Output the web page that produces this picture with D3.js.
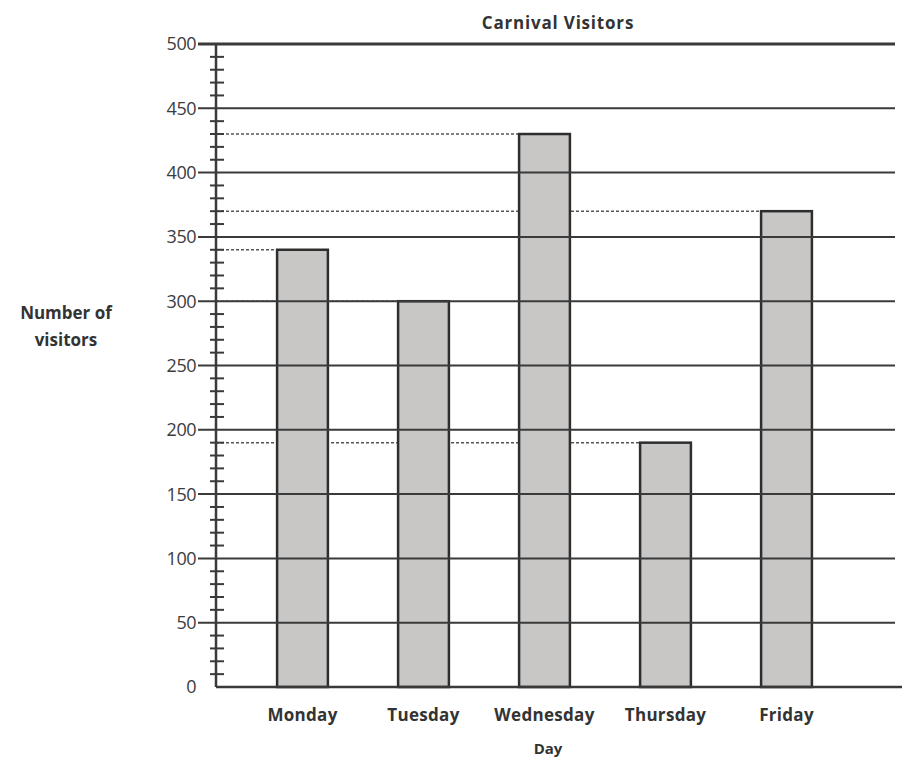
<!DOCTYPE html>
<html>
<head>
<meta charset="utf-8">
<script src="https://cdn.jsdelivr.net/npm/d3@7"></script>
<style>
  body { margin: 0; background: #fff; }
  text { font-family: "Open Sans", "Liberation Sans", sans-serif; }
</style>
</head>
<body>
<script>
// data
var days = ["Monday", "Tuesday", "Wednesday", "Thursday", "Friday"];
var visitors = [340, 300, 430, 190, 370];
var yTicks = [0, 50, 100, 150, 200, 250, 300, 350, 400, 450, 500];

var width = 902,
    height = 760;

var svg = d3.select("body").append("svg")
    .attr("width", width)
    .attr("height", height);

var axisX = 216;

var y = d3.scaleLinear()
    .domain([0, 500])
    .range([687, 44]);

var x = d3.scaleBand()
    .domain(days)
    .range([242, 847])
    .paddingInner(0.58)
    .paddingOuter(0.29);

var ink = "#3a3a3a";

// title
svg.append("text")
    .attr("x", 558)
    .attr("y", 29)
    .attr("text-anchor", "middle")
    .style("font-size", "17px")
    .style("font-weight", "bold")
    .style("letter-spacing", "0.8px")
    .style("fill", "#333")
    .text("Carnival Visitors");

// dashed reference lines from the axis to each bar (hidden behind bars)
svg.selectAll(".ref")
    .data(days)
  .enter().append("line")
    .attr("class", "ref")
    .attr("x1", axisX)
    .attr("x2", function(d) { return x(d); })
    .attr("y1", function(d, i) { return y(visitors[i]); })
    .attr("y2", function(d, i) { return y(visitors[i]); })
    .style("stroke", "#555")
    .style("stroke-width", 1.5)
    .style("stroke-dasharray", "3,2");

// bars
svg.selectAll(".bar")
    .data(days)
  .enter().append("rect")
    .attr("class", "bar")
    .attr("x", function(d) { return x(d); })
    .attr("width", x.bandwidth())
    .attr("y", function(d, i) { return y(visitors[i]); })
    .attr("height", function(d, i) { return y(0) - y(visitors[i]); })
    .style("fill", "#c9c7c6")
    .style("stroke", "#2e2e2e")
    .style("stroke-width", 2.5);

// horizontal gridlines, drawn over the bars
svg.selectAll(".grid")
    .data(yTicks.filter(function(v) { return v > 0; }))
  .enter().append("line")
    .attr("class", "grid")
    .attr("x1", 198)
    .attr("x2", 895)
    .attr("y1", function(d) { return y(d); })
    .attr("y2", function(d) { return y(d); })
    .style("stroke", ink)
    .style("stroke-width", function(d) { return d === 500 ? 3 : 2; });

// minor ticks every 10
svg.selectAll(".minor")
    .data(d3.range(10, 500, 10).filter(function(v) { return v % 50 !== 0; }))
  .enter().append("line")
    .attr("class", "minor")
    .attr("x1", 210)
    .attr("x2", 224)
    .attr("y1", function(d) { return y(d); })
    .attr("y2", function(d) { return y(d); })
    .style("stroke", ink)
    .style("stroke-width", 2);

// y axis line and baseline
svg.append("line")
    .attr("x1", axisX).attr("x2", axisX)
    .attr("y1", y(500)).attr("y2", y(0))
    .style("stroke", ink)
    .style("stroke-width", 2.5);

svg.append("line")
    .attr("x1", axisX).attr("x2", 902)
    .attr("y1", y(0)).attr("y2", y(0))
    .style("stroke", ink)
    .style("stroke-width", 2.5);

// y tick labels
svg.selectAll(".ylab")
    .data(yTicks)
  .enter().append("text")
    .attr("class", "ylab")
    .attr("x", 196)
    .attr("y", function(d) { return y(d); })
    .attr("dy", "0.36em")
    .attr("text-anchor", "end")
    .style("font-size", "18px")
    .style("letter-spacing", "-0.5px")
    .style("fill", "#3c3c3c")
    .text(function(d) { return d; });

// x labels
svg.selectAll(".xlab")
    .data(days)
  .enter().append("text")
    .attr("class", "xlab")
    .attr("x", function(d) { return x(d) + x.bandwidth() / 2; })
    .attr("y", 721)
    .attr("text-anchor", "middle")
    .style("font-size", "17px")
    .style("font-weight", "bold")
    .style("letter-spacing", "0.3px")
    .style("fill", "#333")
    .text(function(d) { return d; });

// axis titles
svg.append("text")
    .attr("x", 548)
    .attr("y", 754)
    .attr("text-anchor", "middle")
    .style("font-size", "15px")
    .style("font-weight", "bold")
    .style("fill", "#333")
    .text("Day");

var yt = svg.append("text")
    .attr("x", 66)
    .attr("y", 319)
    .attr("text-anchor", "middle")
    .style("font-size", "17px")
    .style("font-weight", "bold")
    .style("fill", "#333");
yt.append("tspan").attr("x", 66).text("Number of");
yt.append("tspan").attr("x", 66).attr("dy", 27).text("visitors");
</script>
</body>
</html>
